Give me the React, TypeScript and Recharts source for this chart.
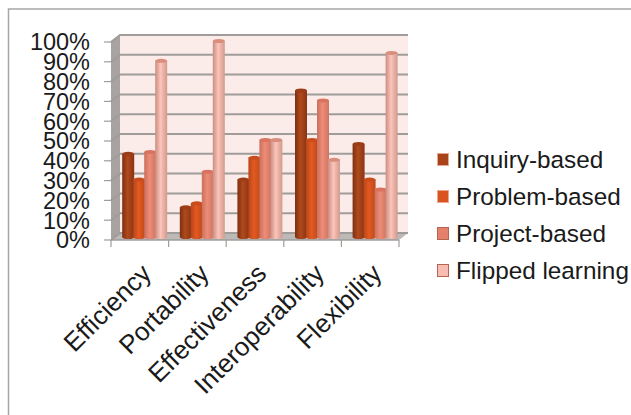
import { BarChart, Bar, XAxis, YAxis, CartesianGrid, Legend, usePlotArea } from 'recharts';

const categories = ['Efficiency', 'Portability', 'Effectiveness', 'Interoperability', 'Flexibility'];
const inquiryBased = [43, 16, 30, 75, 48];
const problemBased = [30, 18, 41, 50, 30];
const projectBased = [44, 34, 50, 70, 25];
const flippedLearning = [90, 100, 50, 40, 94];
const percentTicks = [0, 10, 20, 30, 40, 50, 60, 70, 80, 90, 100];

const seriesNames = ['Inquiry-based', 'Problem-based', 'Project-based', 'Flipped learning'];
const seriesFills = ['#a8431a', '#d9541f', '#e5806d', '#f7bdb3'];

const data = categories.map((name, i) => ({
  name,
  [seriesNames[0]]: inquiryBased[i],
  [seriesNames[1]]: problemBased[i],
  [seriesNames[2]]: projectBased[i],
  [seriesNames[3]]: flippedLearning[i],
}));

const DX = 9;
const DY = 7;
const GRID = '#a09c9a';
const FONT = '"Liberation Sans", Arial, sans-serif';

const gradients = [
  ['#7d2f11', '#b04a1d', '#8a3412'],
  ['#b8451a', '#e35a22', '#bf4818'],
  ['#c8705c', '#ee8c78', '#cf7461'],
  ['#c98d80', '#fcc4ba', '#d29a8d'],
];
const tops = ['#9c3d17', '#c94c1c', '#d9735f', '#d98d7c'];

// wall, side and floor behind the grid, plus the picture's frame
const Walls = () => {
  const plot = usePlotArea();
  if (!plot) return null;
  const { x, y, width, height } = plot;
  const right = x + width;
  const bottom = y + height;
  const step = width / categories.length;
  return (
    <g>
      <defs>
        {gradients.map((g, i) => (
          <linearGradient key={i} id={`cyl${i}`} x1="0" y1="0" x2="1" y2="0">
            <stop offset="0%" stopColor={g[0]} />
            <stop offset="45%" stopColor={g[1]} />
            <stop offset="100%" stopColor={g[2]} />
          </linearGradient>
        ))}
      </defs>
      <path d="M8.5 415V9H631" fill="none" stroke="#a6a6a6" strokeWidth={1.5} />
      <rect x={x + DX} y={y - DY} width={width} height={height} fill="#fbecea" />
      <polygon
        points={`${x},${y} ${x + DX},${y - DY} ${x + DX},${bottom - DY} ${x},${bottom}`}
        fill="#a8a3a1"
      />
      <polygon
        points={`${x},${bottom} ${x + DX},${bottom - DY} ${right + DX},${bottom - DY} ${right},${bottom}`}
        fill="#bdb9b7"
      />
      <line x1={x} y1={bottom} x2={right} y2={bottom} stroke={GRID} strokeWidth={1.5} />
      {categories.concat('').map((_, i) => (
        <line
          key={i}
          x1={x + step * i}
          y1={bottom}
          x2={x + step * i}
          y2={bottom + 7}
          stroke={GRID}
          strokeWidth={1.2}
        />
      ))}
    </g>
  );
};

// the grid layer is the lowest one, so a first grid carries the walls
const WallLine = (props: any) => (props.index === 0 ? <Walls /> : <g />);

const GridLine = (props: any) => {
  const { x1, x2, y1 } = props;
  return (
    <path
      d={`M${x1} ${y1}L${x1 + DX} ${y1 - DY}H${x2 + DX}`}
      fill="none"
      stroke={GRID}
      strokeWidth={2}
    />
  );
};

const cylinder = (index: number) => (props: any) => {
  const { x, y, width, height } = props;
  const left = x + 4.7;
  const top = y - 1;
  const base = y + height - 3;
  const rx = width / 2 + 0.5;
  const ry = 2;
  const cx = left + width / 2;
  return (
    <g>
      <path
        d={`M${cx - rx} ${top}V${base}A${rx} ${ry} 0 0 0 ${cx + rx} ${base}V${top}Z`}
        fill={`url(#cyl${index})`}
      />
      <ellipse cx={cx} cy={top} rx={rx} ry={ry} fill={tops[index]} />
    </g>
  );
};

const CategoryTick = (props: any) => {
  const { x, y, payload } = props;
  return (
    <text
      x={x + 13}
      y={y + 27}
      transform={`rotate(-45 ${x + 13} ${y + 27})`}
      textAnchor="end"
      fontFamily={FONT}
      fontSize={26}
      fill="#1a1a1a"
    >
      {payload.value}
    </text>
  );
};

const LegendBox = () => (
  <div style={{ fontFamily: FONT, fontSize: 24.3, color: '#1a1a1a' }}>
    {seriesNames.map((name, i) => (
      <div key={name} style={{ display: 'flex', alignItems: 'center', height: 37, whiteSpace: 'nowrap' }}>
        <span
          style={{
            width: 12,
            height: 13,
            marginRight: 7,
            background: seriesFills[i],
            border: `1px solid ${i > 1 ? '#b5654f' : '#e8a890'}`,
            boxSizing: 'border-box',
          }}
        />
        {name}
      </div>
    ))}
  </div>
);

export default function App() {
  return (
    <div style={{ position: 'absolute', left: 0, top: 0, width: 631, height: 415, background: '#fff' }}>
      <BarChart
        width={631}
        height={415}
        data={data}
        margin={{ top: 42, right: 232, left: 0, bottom: 0 }}
        barCategoryGap={7}
        barGap={0}
      >
        <CartesianGrid vertical={false} horizontal={WallLine} syncWithTicks />
        <CartesianGrid vertical={false} horizontal={GridLine} syncWithTicks />
        <XAxis
          dataKey="name"
          height={175}
          interval={0}
          axisLine={false}
          tickLine={false}
          tick={CategoryTick}
        />
        <YAxis
          width={111}
          domain={[0, 100]}
          ticks={percentTicks}
          interval={0}
          tickFormatter={(v: number) => `${v}%`}
          axisLine={false}
          tickLine={{ stroke: GRID, strokeWidth: 1.2 }}
          tickSize={7}
          tickMargin={14}
          tick={{ fontFamily: FONT, fontSize: 23.5, fill: '#1a1a1a' }}
        />
        <Legend
          layout="vertical"
          align="center"
          verticalAlign="middle"
          wrapperStyle={{ left: 437, top: 141, width: 194 }}
          content={LegendBox}
        />
        {seriesNames.map((name, i) => (
          <Bar key={name} dataKey={name} fill={seriesFills[i]} isAnimationActive={false} shape={cylinder(i)} />
        ))}
      </BarChart>
    </div>
  );
}
